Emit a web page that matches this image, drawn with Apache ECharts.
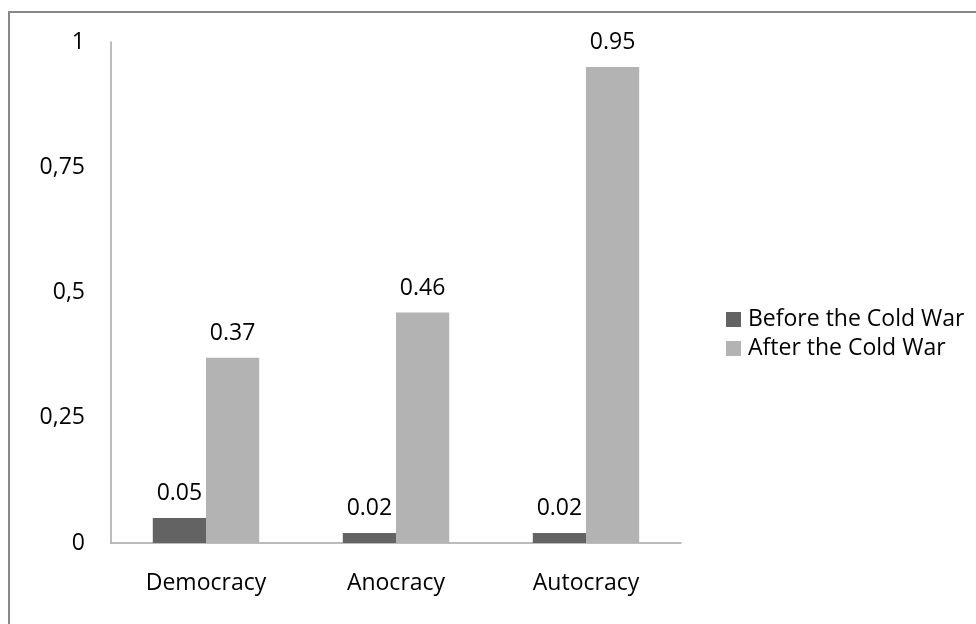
<!DOCTYPE html>
<html>
<head>
<meta charset="utf-8">
<script src="https://cdn.jsdelivr.net/npm/echarts@6/dist/echarts.min.js"></script>
<style>
  html, body { margin: 0; padding: 0; background: #fff; }
  #chart { width: 976px; height: 624px; }
</style>
</head>
<body>
<div id="chart"></div>
<script>
// Regime types on the category axis
const categories = ['Democracy', 'Anocracy', 'Autocracy'];
// Values per period
const beforeColdWar = [0.05, 0.02, 0.02];
const afterColdWar = [0.37, 0.46, 0.95];
// Series names shown in the legend
const seriesNames = ['Before the Cold War', 'After the Cold War'];

const FONT = '"Open Sans", sans-serif';
const FONT_SIZE = 23;

const chart = echarts.init(document.getElementById('chart'), null, { renderer: 'canvas' });

const labelStyle = {
  show: true,
  position: 'top',
  distance: 13,
  color: '#000',
  fontFamily: FONT,
  fontSize: FONT_SIZE,
  formatter: p => p.value.toFixed(2)
};

chart.setOption({
  animation: false,
  backgroundColor: '#fff',
  textStyle: { fontFamily: FONT },
  graphic: [{
    type: 'rect',
    shape: { x: 9, y: 12, width: 1000, height: 700 },
    style: { fill: 'none', stroke: '#888', lineWidth: 2 },
    silent: true
  }],
  grid: { left: 111, top: 42, right: 295, bottom: 81, containLabel: false },
  legend: {
    orient: 'vertical',
    left: 721,
    top: 303,
    itemWidth: 15,
    itemHeight: 15,
    itemGap: 6,
    icon: 'rect',
    textStyle: { color: '#000', fontFamily: FONT, fontSize: FONT_SIZE, padding: [0, 0, 0, 2] },
    data: seriesNames
  },
  xAxis: {
    type: 'category',
    data: categories,
    axisLine: { lineStyle: { color: '#a6a6a6', width: 1.5 } },
    axisTick: { show: false },
    axisLabel: { color: '#000', fontFamily: FONT, fontSize: FONT_SIZE, margin: 29 }
  },
  yAxis: {
    type: 'value',
    min: 0,
    max: 1,
    interval: 0.25,
    axisLine: { show: true, lineStyle: { color: '#a6a6a6', width: 1.5 } },
    axisTick: { show: false },
    splitLine: { show: false },
    axisLabel: {
      color: '#000',
      fontFamily: FONT,
      fontSize: FONT_SIZE,
      margin: 26,
      formatter: v => String(v).replace('.', ',')
    }
  },
  series: [
    {
      name: seriesNames[0],
      type: 'bar',
      data: beforeColdWar,
      barGap: '0%',
      barCategoryGap: '44%',
      itemStyle: { color: '#636363' },
      label: labelStyle
    },
    {
      name: seriesNames[1],
      type: 'bar',
      data: afterColdWar,
      barGap: '0%',
      barCategoryGap: '44%',
      itemStyle: { color: '#b3b3b3' },
      label: labelStyle
    }
  ]
});
</script>
</body>
</html>
